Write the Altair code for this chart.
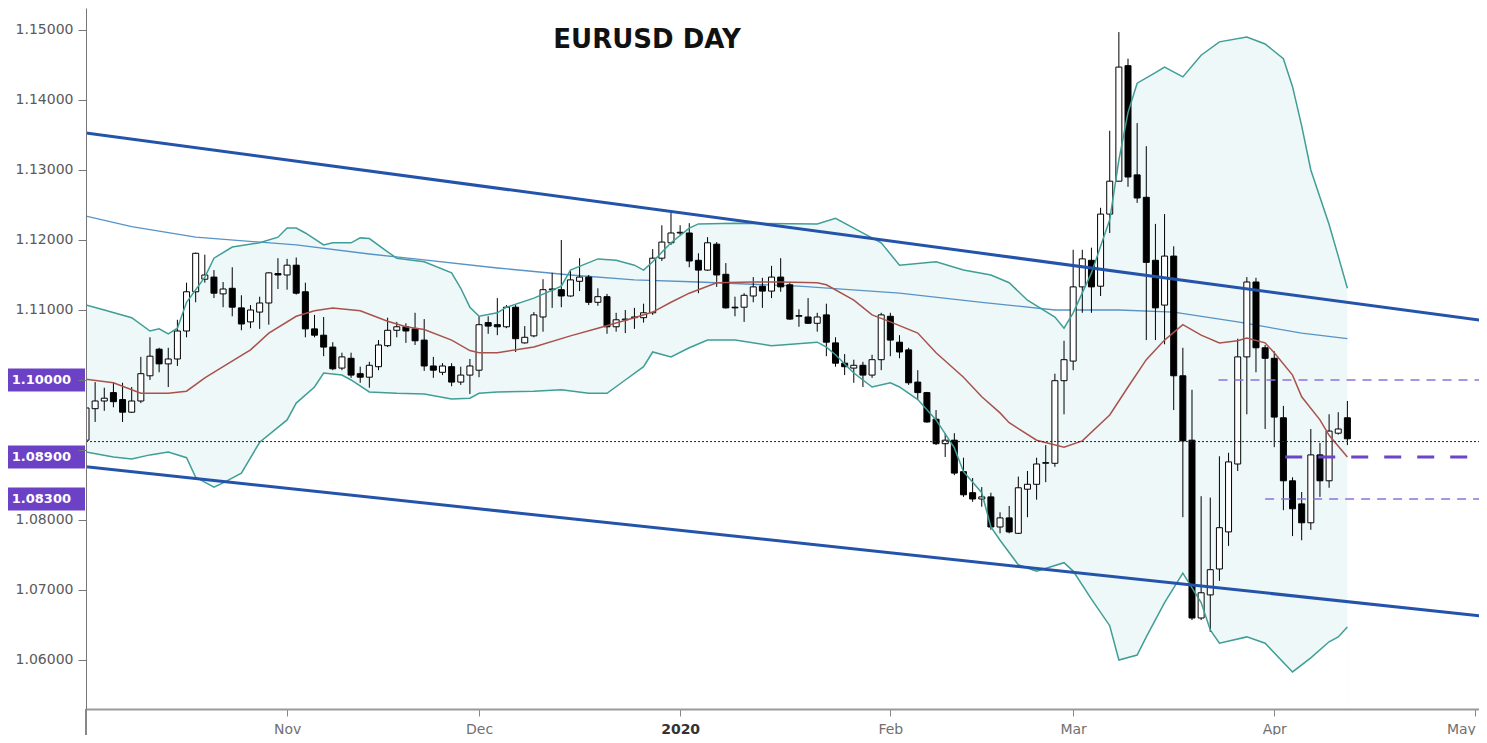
import altair as alt
import pandas as pd

# ---------------- data (x = trading-day index, 0 = early Oct 2019) ----------------
opens = [1.0914, 1.0959, 1.0970, 1.0982, 1.0972, 1.0954, 1.0970, 1.1006, 1.1044, 1.1023,
         1.1030, 1.1070, 1.1126, 1.1144, 1.1147, 1.1123, 1.1131, 1.1103, 1.1083, 1.1097,
         1.1110, 1.1152, 1.1150, 1.1164, 1.1126, 1.1073, 1.1064, 1.1047, 1.1017, 1.1031,
         1.1009, 1.1004, 1.1019, 1.1049, 1.1071, 1.1076, 1.1073, 1.1057, 1.1020, 1.1011,
         1.1019, 1.0997, 1.1007, 1.1014, 1.1082, 1.1079, 1.1076, 1.1104, 1.1053, 1.1063,
         1.1090, 1.1129, 1.1129, 1.1120, 1.1141, 1.1147, 1.1111, 1.1119, 1.1076, 1.1086,
         1.1089, 1.1089, 1.1096, 1.1174, 1.1196, 1.1210, 1.1210, 1.1171, 1.1157, 1.1194,
         1.1151, 1.1104, 1.1104, 1.1120, 1.1134, 1.1127, 1.1147, 1.1136, 1.1091, 1.1090,
         1.1081, 1.1093, 1.1053, 1.1024, 1.1017, 1.1021, 1.1007, 1.1029, 1.1091, 1.1054,
         1.1043, 1.0997, 1.0982, 1.0944, 1.0909, 1.0914, 1.0869, 1.0839, 1.0830, 1.0833,
         1.0790, 1.0803, 1.0781, 1.0844, 1.0851, 1.0881, 1.0881, 1.0999, 1.1027, 1.1133,
         1.1171, 1.1134, 1.1237, 1.1284, 1.1449, 1.1293, 1.1261, 1.1171, 1.1107, 1.1177,
         1.1006, 1.0914, 1.0660, 1.0693, 1.0730, 1.0783, 1.0880, 1.1033, 1.1140, 1.1046,
         1.1031, 1.0946, 1.0856, 1.0823, 1.0796, 1.0893, 1.0856, 1.0924, 1.0946]
highs = [1.0964, 1.0997, 1.0989, 1.0997, 1.0996, 1.0990, 1.1033, 1.1061, 1.1046, 1.1046,
         1.1086, 1.1139, 1.1182, 1.1179, 1.1157, 1.1140, 1.1161, 1.1121, 1.1107, 1.1119,
         1.1154, 1.1174, 1.1173, 1.1175, 1.1139, 1.1093, 1.1090, 1.1054, 1.1039, 1.1039,
         1.1019, 1.1026, 1.1057, 1.1089, 1.1083, 1.1081, 1.1096, 1.1087, 1.1033, 1.1024,
         1.1024, 1.1019, 1.1030, 1.1091, 1.1091, 1.1117, 1.1107, 1.1107, 1.1077, 1.1097,
         1.1144, 1.1153, 1.1200, 1.1156, 1.1174, 1.1150, 1.1131, 1.1123, 1.1096, 1.1100,
         1.1103, 1.1109, 1.1187, 1.1221, 1.1240, 1.1221, 1.1224, 1.1181, 1.1204, 1.1197,
         1.1167, 1.1119, 1.1124, 1.1147, 1.1146, 1.1163, 1.1174, 1.1139, 1.1101, 1.1117,
         1.1096, 1.1109, 1.1061, 1.1037, 1.1029, 1.1026, 1.1036, 1.1096, 1.1096, 1.1064,
         1.1046, 1.1014, 1.0983, 1.0957, 1.0924, 1.0924, 1.0889, 1.0860, 1.0847, 1.0839,
         1.0811, 1.0820, 1.0862, 1.0870, 1.0889, 1.0907, 1.1009, 1.1056, 1.1186, 1.1186,
         1.1189, 1.1246, 1.1356, 1.1497, 1.1459, 1.1367, 1.1334, 1.1223, 1.1237, 1.1191,
         1.1046, 1.0986, 1.0834, 1.0832, 1.0891, 1.0896, 1.1059, 1.1147, 1.1146, 1.1050,
         1.1041, 1.0963, 1.0861, 1.0840, 1.0930, 1.0910, 1.0951, 1.0954, 1.0970]
lows = [1.0903, 1.0940, 1.0956, 1.0961, 1.0940, 1.0953, 1.0967, 1.1000, 1.1011, 1.0990,
        1.1020, 1.1061, 1.1111, 1.1139, 1.1117, 1.1104, 1.1091, 1.1071, 1.1074, 1.1073,
        1.1079, 1.1130, 1.1129, 1.1122, 1.1061, 1.1061, 1.1034, 1.1014, 1.1014, 1.1003,
        1.0996, 1.0989, 1.1014, 1.1047, 1.1061, 1.1053, 1.1050, 1.1013, 1.1003, 1.1007,
        1.0991, 1.0993, 1.0980, 1.1004, 1.1066, 1.1064, 1.1074, 1.1040, 1.1052, 1.1061,
        1.1069, 1.1103, 1.1104, 1.1119, 1.1127, 1.1107, 1.1106, 1.1066, 1.1069, 1.1067,
        1.1073, 1.1082, 1.1093, 1.1170, 1.1193, 1.1207, 1.1161, 1.1124, 1.1156, 1.1133,
        1.1102, 1.1091, 1.1083, 1.1111, 1.1103, 1.1117, 1.1126, 1.1086, 1.1076, 1.1080,
        1.1069, 1.1034, 1.1019, 1.1007, 1.0996, 1.0990, 1.1003, 1.1014, 1.1034, 1.1031,
        1.0993, 1.0972, 1.0939, 1.0907, 1.0890, 1.0864, 1.0833, 1.0826, 1.0819, 1.0786,
        1.0781, 1.0781, 1.0780, 1.0804, 1.0829, 1.0854, 1.0876, 1.0951, 1.1014, 1.1096,
        1.1096, 1.1120, 1.1210, 1.1284, 1.1276, 1.1253, 1.1057, 1.1057, 1.1051, 1.0957,
        1.0804, 1.0657, 1.0657, 1.0640, 1.0713, 1.0763, 1.0870, 1.0951, 1.1011, 1.0930,
        1.0904, 1.0814, 1.0777, 1.0771, 1.0786, 1.0833, 1.0846, 1.0922, 1.0907]
closes = [1.0960, 1.0970, 1.0974, 1.0969, 1.0954, 1.0970, 1.1009, 1.1034, 1.1023, 1.1030,
          1.1070, 1.1126, 1.1181, 1.1150, 1.1124, 1.1130, 1.1104, 1.1080, 1.1100, 1.1110,
          1.1153, 1.1150, 1.1164, 1.1124, 1.1073, 1.1064, 1.1047, 1.1016, 1.1033, 1.1007,
          1.1004, 1.1021, 1.1050, 1.1071, 1.1076, 1.1070, 1.1056, 1.1020, 1.1014, 1.1020,
          1.0997, 1.1007, 1.1020, 1.1079, 1.1077, 1.1076, 1.1104, 1.1059, 1.1061, 1.1093,
          1.1129, 1.1130, 1.1120, 1.1143, 1.1147, 1.1111, 1.1119, 1.1076, 1.1086, 1.1087,
          1.1090, 1.1096, 1.1174, 1.1197, 1.1210, 1.1211, 1.1170, 1.1157, 1.1196, 1.1150,
          1.1103, 1.1103, 1.1121, 1.1133, 1.1127, 1.1147, 1.1133, 1.1087, 1.1092, 1.1081,
          1.1090, 1.1054, 1.1024, 1.1019, 1.1021, 1.1007, 1.1029, 1.1093, 1.1057, 1.1040,
          1.0996, 1.0982, 1.0940, 1.0909, 1.0914, 1.0867, 1.0836, 1.0830, 1.0833, 1.0790,
          1.0803, 1.0783, 1.0846, 1.0851, 1.0880, 1.0882, 1.0999, 1.1029, 1.1133, 1.1173,
          1.1133, 1.1237, 1.1284, 1.1447, 1.1290, 1.1260, 1.1168, 1.1103, 1.1177, 1.1006,
          1.0913, 1.0660, 1.0696, 1.0729, 1.0789, 1.0883, 1.1033, 1.1140, 1.1046, 1.1031,
          1.0947, 1.0856, 1.0816, 1.0796, 1.0893, 1.0856, 1.0927, 1.0930, 1.0916]

upper_i = [0, 2, 5, 7, 8, 9, 10, 11, 13, 14, 16, 19, 21, 22, 23, 24, 26, 27, 29, 30, 31, 33, 34,
           37, 40, 41, 42, 43, 45, 46, 49, 52, 53, 56, 58, 60, 61, 62, 64, 66, 67, 71, 80, 82,
           84, 87, 89, 93, 96, 99, 101, 103, 106, 107, 108, 110, 112, 113, 114, 115, 117, 118,
           120, 122, 124, 127, 129, 131, 132, 133, 134, 136, 137, 138]
upper_v = [1.1107, 1.1100, 1.1089, 1.1070, 1.1073, 1.1066, 1.1074, 1.1111, 1.1147, 1.1174,
           1.1190, 1.1196, 1.1204, 1.1217, 1.1217, 1.1210, 1.1193, 1.1196, 1.1196, 1.1203,
           1.1202, 1.1183, 1.1174, 1.1169, 1.1153, 1.1131, 1.1104, 1.1091, 1.1096, 1.1104,
           1.1117, 1.1134, 1.1157, 1.1173, 1.1171, 1.1164, 1.1157, 1.1169, 1.1196, 1.1217,
           1.1223, 1.1224, 1.1223, 1.1231, 1.1217, 1.1196, 1.1164, 1.1169, 1.1157, 1.1150,
           1.1139, 1.1114, 1.1090, 1.1074, 1.1096, 1.1153, 1.1229, 1.1314, 1.1382, 1.1424,
           1.1439, 1.1447, 1.1433, 1.1464, 1.1483, 1.1490, 1.1480, 1.1459, 1.1419, 1.1363,
           1.1300, 1.1222, 1.1177, 1.1131]

lower_i = [0, 3, 5, 7, 9, 11, 12, 14, 15, 17, 19, 22, 23, 25, 26, 28, 29, 31, 34, 37, 40, 42,
           43, 45, 49, 52, 55, 57, 59, 61, 62, 64, 66, 68, 71, 75, 80, 81, 82, 84, 86, 88, 89,
           91, 93, 95, 96, 98, 99, 100, 102, 104, 107, 108, 110, 112, 113, 115, 116, 118, 120,
           122, 123, 124, 127, 129, 132, 134, 136, 137, 138]
lower_v = [1.0897, 1.0890, 1.0887, 1.0893, 1.0897, 1.0889, 1.0861, 1.0847, 1.0853, 1.0867,
           1.0911, 1.0943, 1.0967, 1.0990, 1.1010, 1.1007, 1.1000, 1.0983, 1.0981, 1.0980,
           1.0973, 1.0974, 1.0981, 1.0983, 1.0984, 1.0986, 1.0981, 1.0981, 1.1000, 1.1019,
           1.1040, 1.1033, 1.1046, 1.1057, 1.1057, 1.1049, 1.1054, 1.1047, 1.1036, 1.1010,
           1.0990, 1.0996, 1.0990, 1.0972, 1.0943, 1.0903, 1.0869, 1.0839, 1.0790, 1.0771,
           1.0736, 1.0727, 1.0739, 1.0727, 1.0687, 1.0649, 1.0600, 1.0607, 1.0633, 1.0682,
           1.0724, 1.0682, 1.0643, 1.0624, 1.0633, 1.0624, 1.0583, 1.0603, 1.0626, 1.0633,
           1.0647]

sma_i = [0, 3, 5, 6, 9, 11, 13, 15, 18, 20, 23, 25, 27, 30, 33, 35, 37, 40, 42, 43, 45, 49,
         53, 56, 60, 62, 64, 66, 69, 73, 76, 80, 81, 84, 86, 88, 91, 93, 96, 98, 100, 101, 104,
         107, 109, 112, 114, 116, 118, 120, 122, 124, 126, 127, 129, 130, 132, 133, 135, 136, 138]
sma_v = [1.1001, 1.0996, 1.0986, 1.0981, 1.0981, 1.0984, 1.1003, 1.1019, 1.1043, 1.1067,
         1.1091, 1.1099, 1.1103, 1.1099, 1.1084, 1.1076, 1.1072, 1.1057, 1.1042, 1.1039,
         1.1039, 1.1047, 1.1063, 1.1074, 1.1089, 1.1097, 1.1111, 1.1124, 1.1139, 1.1140,
         1.1140, 1.1139, 1.1136, 1.1114, 1.1093, 1.1083, 1.1067, 1.1039, 1.1004, 1.0976,
         1.0953, 1.0939, 1.0914, 1.0904, 1.0913, 1.0950, 1.0990, 1.1029, 1.1057, 1.1079,
         1.1064, 1.1053, 1.1056, 1.1060, 1.1053, 1.1039, 1.1007, 1.0976, 1.0943, 1.0921,
         1.0890]

ma_i = [0, 5, 12, 23, 31, 36, 45, 53, 60, 67, 78, 89, 98, 106, 113, 119, 126, 133, 138]
ma_v = [1.1234, 1.1219, 1.1204, 1.1193, 1.1180, 1.1173, 1.1160, 1.1150, 1.1143, 1.1140,
        1.1134, 1.1124, 1.1111, 1.1100, 1.1100, 1.1097, 1.1083, 1.1067, 1.1059]

# trend channel end points (index, price)
chan_x0 = [0, 0]
chan_x1 = [153.3, 153.3]
chan_y0 = [1.1353, 1.0876]
chan_y1 = [1.1084, 1.0662]

# horizontal levels
dotted_level = [1.0912]
level_thin = [1.1000, 1.0830]
level_thin_x0 = [123.9, 129.0]
level_thin_x1 = [153.3, 152.7]
level_thick = [1.0890]
level_thick_x0 = [131.2]
level_thick_x1 = [152.0]
tag_prices = [1.1000, 1.0890, 1.0830]

month_idx = [22, 43, 65, 88, 108, 130, 152]
month_names = ["Nov", "Dec", "2020", "Feb", "Mar", "Apr", "May"]
y_ticks = [1.06, 1.07, 1.08, 1.09, 1.10, 1.11, 1.12, 1.13, 1.14, 1.15]
hidden_y_labels = [1.09, 1.10]

# ---------------- frames ----------------
idx = list(range(len(opens)))
candles = pd.DataFrame({"i": idx, "open": opens, "high": highs, "low": lows, "close": closes})
candles["dir"] = ["up" if c >= o else "down" for o, c in zip(opens, closes)]
upper = pd.DataFrame({"i": upper_i, "v": upper_v})
lower = pd.DataFrame({"i": lower_i, "v": lower_v})
sma = pd.DataFrame({"i": sma_i, "v": sma_v})
ma = pd.DataFrame({"i": ma_i, "v": ma_v})
chan = pd.DataFrame({"x0": chan_x0, "x1": chan_x1, "y0": chan_y0, "y1": chan_y1})
dotted = pd.DataFrame({"x0": [0], "x1": [153.3], "y": dotted_level})
thin = pd.DataFrame({"x0": level_thin_x0, "x1": level_thin_x1, "y": level_thin})
thick = pd.DataFrame({"x0": level_thick_x0, "x1": level_thick_x1, "y": level_thick})
tags = pd.DataFrame({"p": tag_prices})

# ---------------- scales / axes ----------------
XMIN, XMAX = 0, 152.4
YMIN, YMAX = 1.053, 1.15314
xs = alt.Scale(domain=[XMIN, XMAX], nice=False, zero=False, padding=0)
ys = alt.Scale(domain=[YMIN, YMAX], nice=False, zero=False, padding=0)

last_month = month_idx[-1]
label_expr = " : ".join(f"datum.value == {i} ? '{n}'" for i, n in zip(month_idx, month_names)) + " : ''"
xaxis = alt.Axis(values=month_idx, labelExpr=label_expr, title=None, grid=False, zindex=1,
                 tickSize=7, tickColor="#888888", domainColor="#9a9a9a", domainWidth=2,
                 labelFont="DejaVu Sans", labelFontSize=14, labelPadding=6,
                 labelColor=alt.condition("datum.value == 65", alt.value("#333333"), alt.value("#707070")),
                 labelFontWeight=alt.condition("datum.value == 65", alt.value("bold"), alt.value("normal")),
                 labelAlign=alt.condition(f"datum.value == {last_month}", alt.value("right"), alt.value("center")),
                 labelFlush=False, labelOverlap=False, labelBound=False)
hide_test = " || ".join(f"abs(datum.value - {v}) < 0.0001" for v in hidden_y_labels)
yaxis = alt.Axis(values=y_ticks, title=None, grid=False, tickSize=8, zindex=1,
                 labelExpr=f"({hide_test}) ? '' : format(datum.value, '.5f')",
                 tickColor="#777777", domainColor="#777777", domainWidth=1,
                 labelFont="DejaVu Sans", labelFontSize=14, labelColor="#5a5a5a", labelPadding=5)


def X(f):
    return alt.X(f, type="quantitative", scale=xs, axis=xaxis)


def Y(f):
    return alt.Y(f, type="quantitative", scale=ys, axis=yaxis)


band_fill = alt.Chart(upper).mark_area(color="#eef8f9", clip=True).encode(
    x=X("i"), y=Y("v"), y2=alt.datum(YMIN))
band_cut = alt.Chart(lower).mark_area(color="#ffffff", clip=True).encode(
    x=X("i"), y=Y("v"), y2=alt.datum(YMIN))
ma_line = alt.Chart(ma).mark_line(color="#5793c6", strokeWidth=1.3, clip=True).encode(x=X("i"), y=Y("v"))

wicks = alt.Chart(candles).mark_rule(color="black", strokeWidth=1, clip=True).encode(
    x=X("i"), y=Y("low"), y2="high")
bodies = alt.Chart(candles).mark_bar(size=6, stroke="black", strokeWidth=1, clip=True,
                                     orient="vertical").encode(
    x=X("i"), y=Y("open"), y2="close",
    fill=alt.Fill("dir:N", scale=alt.Scale(domain=["up", "down"], range=["#ffffff", "#000000"]), legend=None))

up_line = alt.Chart(upper).mark_line(color="#3f9e96", strokeWidth=1.5, clip=True).encode(x=X("i"), y=Y("v"))
lo_line = alt.Chart(lower).mark_line(color="#3f9e96", strokeWidth=1.5, clip=True).encode(x=X("i"), y=Y("v"))
sma_line = alt.Chart(sma).mark_line(color="#a9524c", strokeWidth=1.5, clip=True).encode(x=X("i"), y=Y("v"))

chan_lines = alt.Chart(chan).mark_rule(color="#2453aa", strokeWidth=3, clip=True).encode(
    x=X("x0"), x2="x1", y=Y("y0"), y2="y1")
dot_line = alt.Chart(dotted).mark_rule(color="#222222", strokeWidth=1, strokeDash=[2, 2], clip=True).encode(
    x=X("x0"), x2="x1", y=Y("y"))
thin_lines = alt.Chart(thin).mark_rule(color="#8f72dc", strokeWidth=1.6, strokeDash=[9, 7], clip=True).encode(
    x=X("x0"), x2="x1", y=Y("y"))
thick_lines = alt.Chart(thick).mark_rule(color="#6a45c8", strokeWidth=3, strokeDash=[17, 16], clip=True).encode(
    x=X("x0"), x2="x1", y=Y("y"))

tag_box = alt.Chart(tags).mark_rule(color="#6b42c6", strokeWidth=23, strokeCap="butt").encode(
    y=Y("p"), x=alt.value(-78), x2=alt.value(-1))
tag_text = alt.Chart(tags).mark_text(align="right", baseline="middle", color="white", fontWeight="bold",
                                     font="DejaVu Sans", fontSize=13).encode(
    y=Y("p"), x=alt.value(-15), text=alt.Text("p:Q", format=".5f"))

axis_ext = alt.Chart(tags).mark_rule(color="#777777", strokeWidth=1).encode(
    x=alt.value(0), y=alt.value(701), y2=alt.value(727))

title = alt.Chart(pd.DataFrame({"t": ["EURUSD DAY"]})).mark_text(
    font="DejaVu Sans", fontWeight="bold", fontSize=26, color="#111111", align="center", baseline="middle"
).encode(text="t:N", x=alt.value(561), y=alt.value(32))

chart = alt.layer(
    band_fill, band_cut, ma_line, wicks, bodies, up_line, lo_line, sma_line,
    dot_line, chan_lines, thin_lines, thick_lines, tag_box, tag_text, axis_ext, title
).properties(
    width=1393, height=701,
    autosize=alt.AutoSizeParams(type="none"),
    padding={"left": 78, "top": 0, "right": 0, "bottom": 26},
    background="white",
).configure_view(stroke=None)

chart.save("out.html", embed_options={"renderer": "svg", "actions": False})
